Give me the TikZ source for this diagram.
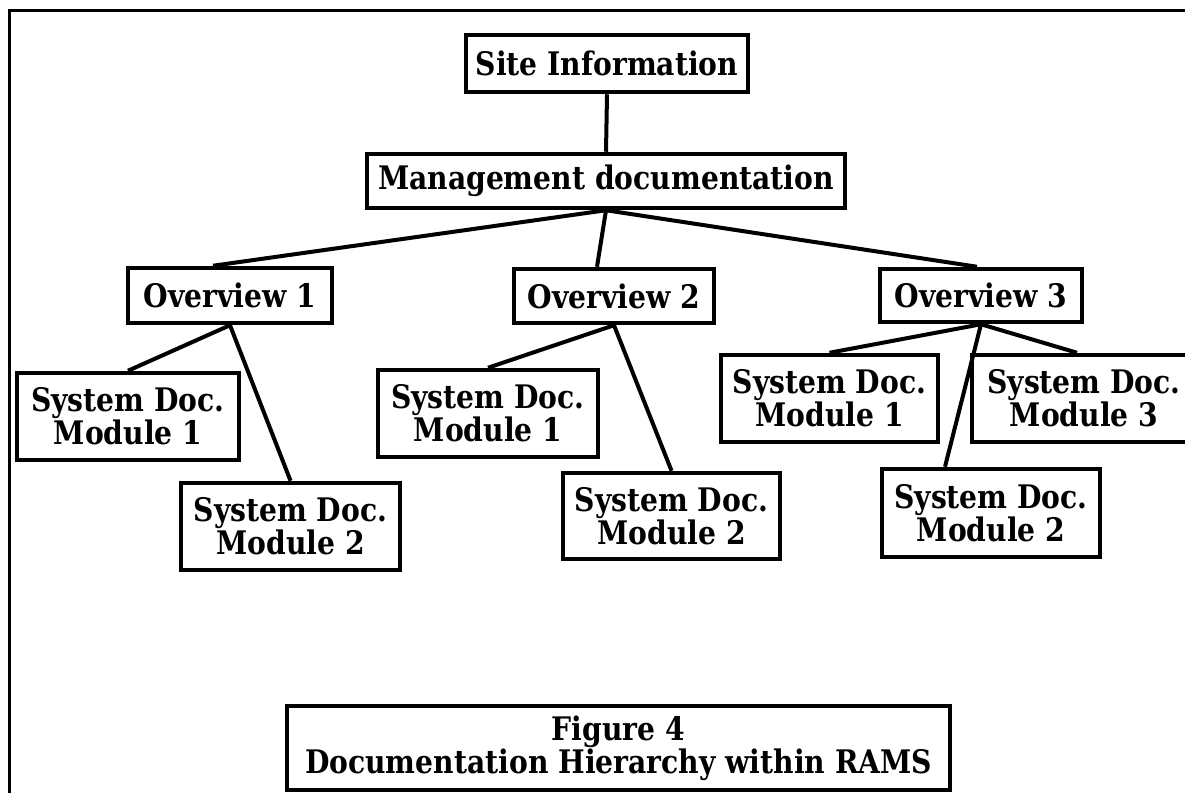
\documentclass[tikz,border=0pt]{standalone}
\usepackage{graphicx}
\usepackage{fontspec}
\setmainfont{DejaVu Serif}
\newcommand{\tl}[1]{\scalebox{1}[1.15]{#1}}
\begin{document}
\begin{tikzpicture}[x=1pt,y=-1pt,
  box/.style={draw, line width=4.5pt, inner sep=0pt, align=center,
    font=\fontsize{28.2}{33}\selectfont\bfseries},
  link/.style={line width=4pt},
  frame/.style={line width=3pt}]
\useasboundingbox (0,0) rectangle (1185,792);
\draw[frame] (9,800) -- (9,11) -- (1195,11);

\node[box, minimum width=282pt, minimum height=57pt] (site) at (607,63.5) {\tl{Site Information}};
\node[box, minimum width=478pt, minimum height=54pt] (mgmt) at (606,181) {\tl{Management documentation}};

\node[box, minimum width=204pt, minimum height=55pt] (ov1) at (230,295.5) {\tl{Overview 1}};
\node[box, minimum width=200pt, minimum height=54pt] (ov2) at (614,296) {\tl{Overview 2}};
\node[box, minimum width=202pt, minimum height=53pt] (ov3) at (981,295.5) {\tl{Overview 3}};

\node[box, minimum width=222pt, minimum height=87pt] (a1) at (128,416.5) {\tl{System Doc.}\\\tl{Module 1}};
\node[box, minimum width=219pt, minimum height=87pt] (a2) at (290.5,526.5) {\tl{System Doc.}\\\tl{Module 2}};
\node[box, minimum width=220pt, minimum height=87pt] (b1) at (488,413.5) {\tl{System Doc.}\\\tl{Module 1}};
\node[box, minimum width=217pt, minimum height=86pt] (b2) at (671.5,516) {\tl{System Doc.}\\\tl{Module 2}};
\node[box, minimum width=217pt, minimum height=87pt] (c1) at (829.5,398.5) {\tl{System Doc.}\\\tl{Module 1}};
\node[box, minimum width=224pt, minimum height=87pt] (c3) at (1084,398.5) {\tl{System Doc.}\\\tl{Module 3}};
\node[box, minimum width=218pt, minimum height=88pt] (c2) at (991,513) {\tl{System Doc.}\\\tl{Module 2}};

\node[box, minimum width=663pt, minimum height=84pt] (fig) at (618.5,748) {\tl{Figure 4}\\\tl{Documentation Hierarchy within RAMS}};

\draw[link] (site.south) -- (mgmt.north);
\draw[link] (mgmt.south) -- ([xshift=-17pt]ov1.north);
\draw[link] (mgmt.south) -- ([xshift=-17pt]ov2.north);
\draw[link] (mgmt.south) -- ([xshift=-4pt]ov3.north);
\draw[link] (ov1.south) -- (a1.north);
\draw[link] (ov1.south) -- (a2.north);
\draw[link] (ov2.south) -- (b1.north);
\draw[link] (ov2.south) -- (b2.north);
\draw[link] (ov3.south) -- (c1.north);
\draw[link] (ov3.south) -- ([xshift=-7pt]c3.north);
\draw[link] (ov3.south) -- ([xshift=-46pt]c2.north);
\end{tikzpicture}
\end{document}
